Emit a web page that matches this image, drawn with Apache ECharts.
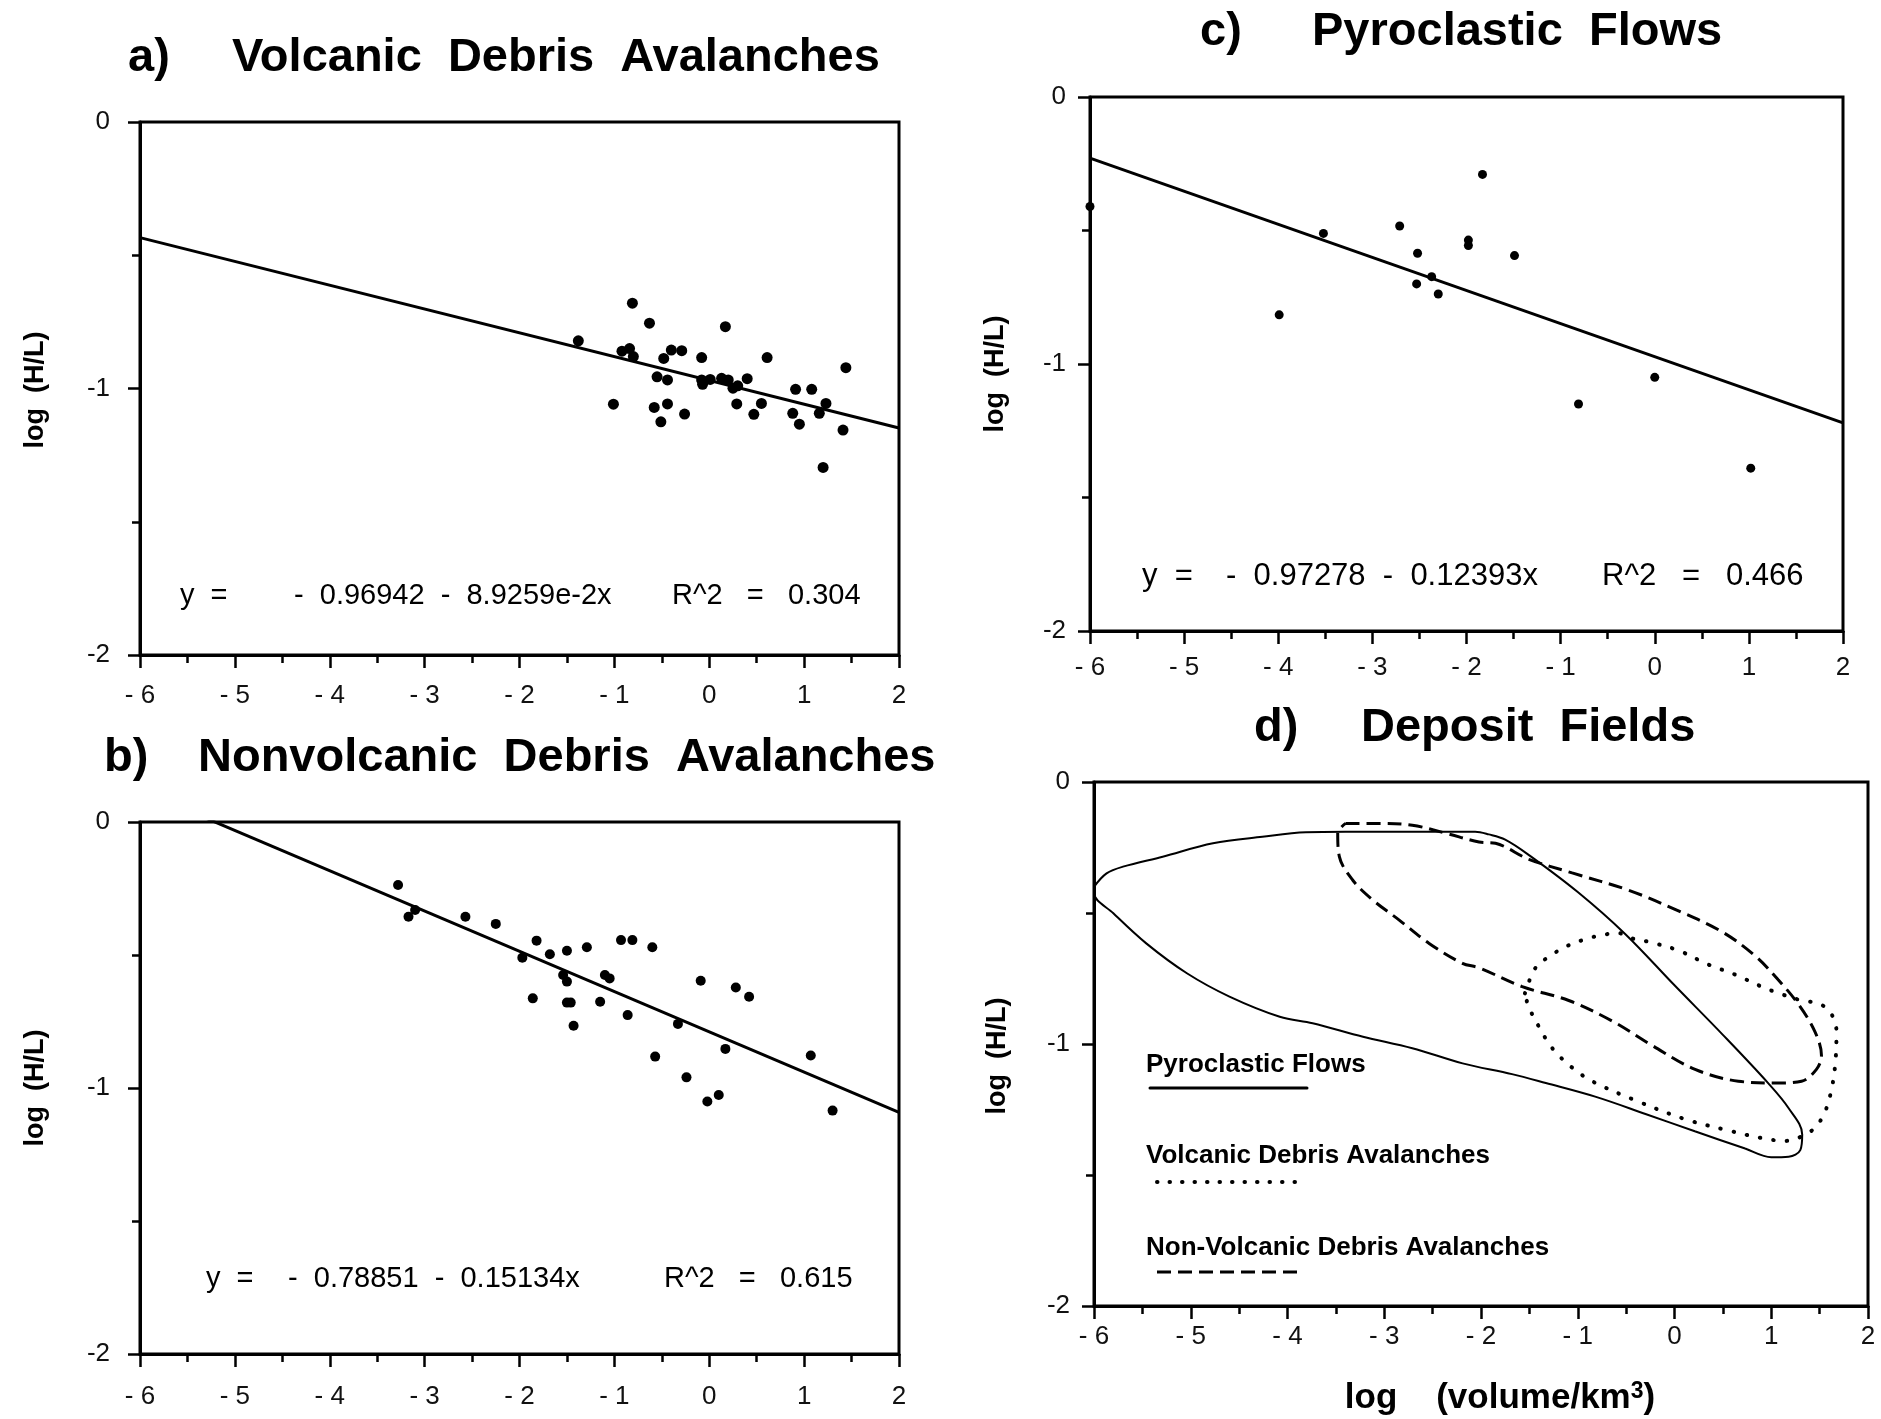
<!DOCTYPE html>
<html>
<head>
<meta charset="utf-8">
<script src="https://cdn.jsdelivr.net/npm/echarts@6/dist/echarts.min.js"></script>
<style>
  html, body { margin: 0; padding: 0; background: #fff; }
  #chart { width: 1881px; height: 1419px; }
</style>
</head>
<body>
<div id="chart"></div>
<script>
// ---- tick labels shared by every panel ----
const xTickValues = [-6, -5, -4, -3, -2, -1, 0, 1, 2];
const xTickText = ['- 6', '- 5', '- 4', '- 3', '- 2', '- 1', '0', '1', '2'];
const yTickValues = [0, -1, -2];
const yTickText = ['0', '-1', '-2'];

// ---- a) volcanic debris avalanches: [log volume, log H/L] ----
const volcanicPts = [
  [-0.81, -0.68], [-0.63, -0.755], [0.17, -0.768], [-1.38, -0.821],
  [-0.92, -0.86], [-0.84, -0.85], [-0.80, -0.88], [-0.48, -0.887],
  [-0.40, -0.856], [-0.29, -0.858], [-0.08, -0.884], [0.61, -0.884],
  [1.44, -0.922], [-0.55, -0.956], [-0.44, -0.968], [-0.08, -0.968],
  [0.01, -0.966], [-0.07, -0.984], [0.13, -0.962], [0.20, -0.968],
  [0.25, -0.999], [0.30, -0.99], [0.40, -0.963], [0.91, -1.003],
  [1.08, -1.003], [1.23, -1.056], [1.16, -1.093], [-1.01, -1.059],
  [-0.58, -1.071], [-0.44, -1.058], [-0.51, -1.125], [-0.26, -1.096],
  [0.29, -1.058], [0.55, -1.056], [0.47, -1.097], [0.88, -1.093],
  [0.95, -1.134], [1.41, -1.156], [1.20, -1.296]
];
const volcanicFit = { intercept: -0.96942, slope: -8.9259e-2, r2: '0.304', slopeText: '8.9259e-2x' };

// ---- b) nonvolcanic debris avalanches ----
const nonvolcanicPts = [
  [-3.28, -0.237], [-3.17, -0.356], [-3.10, -0.331], [-2.57, -0.356],
  [-2.25, -0.383], [-1.82, -0.446], [-1.97, -0.510], [-1.68, -0.497],
  [-1.50, -0.484], [-1.29, -0.471], [-0.93, -0.444], [-0.81, -0.444],
  [-0.60, -0.471], [-1.54, -0.575], [-1.50, -0.600], [-1.10, -0.575],
  [-1.05, -0.588], [-1.86, -0.663], [-1.50, -0.679], [-1.46, -0.679],
  [-1.15, -0.676], [-0.86, -0.726], [-1.43, -0.766], [-0.57, -0.882],
  [-0.33, -0.759], [-0.09, -0.597], [0.28, -0.622], [0.42, -0.657],
  [0.17, -0.853], [-0.24, -0.960], [0.10, -1.026], [-0.02, -1.051],
  [1.07, -0.878], [1.30, -1.085]
];
const nonvolcanicFit = { intercept: -0.78851, slope: -0.15134, r2: '0.615', slopeText: '0.15134x' };

// ---- c) pyroclastic flows ----
const pyroclasticPts = [
  [-6.0, -0.41], [-3.52, -0.511], [-2.71, -0.483], [-1.83, -0.290],
  [-2.52, -0.585], [-1.98, -0.536], [-1.98, -0.556], [-1.49, -0.594],
  [-2.37, -0.673], [-2.53, -0.700], [-2.30, -0.738], [-3.99, -0.816],
  [-0.81, -1.15], [0.0, -1.05], [1.02, -1.39]
];
const pyroclasticFit = { intercept: -0.97278, slope: -0.12393, r2: '0.466', slopeText: '0.12393x' };

// ---- d) deposit field outlines (closed) ----
const pyroclasticField = [
  [-6, -0.40], [-5.87, -0.349], [-5.70, -0.323], [-5.29, -0.285], [-4.77, -0.234],
  [-4.26, -0.209], [-3.81, -0.192], [-3.40, -0.190], [-2.71, -0.190], [-2.06, -0.190],
  [-1.92, -0.200], [-1.75, -0.220], [-1.50, -0.280], [-1.00, -0.420], [-0.51, -0.580],
  [0.00, -0.776], [0.50, -0.965], [0.97, -1.150], [1.18, -1.245], [1.32, -1.345],
  [1.30, -1.405], [1.18, -1.430], [1.00, -1.432], [0.73, -1.399], [0.21, -1.333],
  [-0.30, -1.267], [-0.82, -1.201], [-1.33, -1.149], [-1.68, -1.115], [-2.19, -1.074],
  [-2.71, -1.016], [-3.22, -0.972], [-3.74, -0.921], [-4.08, -0.896], [-4.60, -0.819],
  [-5.04, -0.730], [-5.46, -0.616], [-5.80, -0.501], [-6, -0.425], [-6, -0.40]
];
const volcanicField = [
  [-1.546, -0.807], [-1.436, -0.709], [-1.282, -0.663], [-1.110, -0.626], [-0.921, -0.600],
  [-0.749, -0.584], [-0.577, -0.577], [-0.440, -0.597], [-0.268, -0.610], [0.041, -0.643],
  [0.351, -0.697], [0.626, -0.735], [0.900, -0.781], [1.038, -0.801], [1.313, -0.834],
  [1.502, -0.847], [1.622, -0.886], [1.674, -0.952], [1.663, -1.070], [1.622, -1.175],
  [1.553, -1.261], [1.450, -1.320], [1.313, -1.353], [1.141, -1.370], [0.900, -1.359],
  [0.591, -1.333], [0.110, -1.287], [-0.405, -1.215], [-0.852, -1.142], [-1.058, -1.090],
  [-1.196, -1.044], [-1.299, -0.998], [-1.385, -0.945], [-1.505, -0.860], [-1.546, -0.807]
];
const nonvolcanicField = [
  [-3.40, -0.158], [-3.05, -0.158], [-2.71, -0.165], [-2.36, -0.196], [-2.02, -0.229],
  [-1.85, -0.234], [-1.505, -0.295], [-1.058, -0.347], [-0.474, -0.413], [0.041, -0.492],
  [0.488, -0.571], [0.832, -0.663], [1.072, -0.755], [1.278, -0.847], [1.450, -0.952],
  [1.519, -1.044], [1.467, -1.097], [1.313, -1.142], [1.072, -1.149], [0.660, -1.142],
  [0.213, -1.097], [-0.234, -1.005], [-0.646, -0.912], [-1.093, -0.834], [-1.574, -0.781],
  [-2.021, -0.709], [-2.192, -0.692], [-2.536, -0.616], [-2.845, -0.527], [-3.120, -0.450],
  [-3.327, -0.374], [-3.464, -0.285], [-3.481, -0.196], [-3.40, -0.158]
];

const FONT = 'Liberation Sans, Arial, Helvetica, sans-serif';
const INK = '#000';

// plot frames for the four panels (pixels)
const grids = [
  { left: 140, top: 122, width: 759, height: 533 },   // a
  { left: 140, top: 822, width: 759, height: 532 },   // b
  { left: 1090, top: 97, width: 753, height: 534 },   // c
  { left: 1094, top: 782, width: 774, height: 524 }   // d
];
const xLabelMargin = [28, 30, 24, 18];
const yLabelMargin = [30, 30, 24, 24];

function fitLine(fit) {
  return [-6, 2].map(x => [x, fit.intercept + fit.slope * x]);
}

function makeX(i) {
  return {
    type: 'value', gridIndex: i, min: -6, max: 2, interval: 1,
    axisLine: { show: true, onZero: false, lineStyle: { color: INK, width: 3 } },
    axisTick: { show: true, inside: false, length: 13, lineStyle: { color: INK, width: 2.5 } },
    minorTick: { show: true, splitNumber: 2, length: 8, lineStyle: { color: INK, width: 2.5 } },
    splitLine: { show: false },
    axisLabel: {
      margin: xLabelMargin[i], fontFamily: FONT, fontSize: 26, color: '#111',
      formatter: v => xTickText[xTickValues.indexOf(Math.round(v))]
    }
  };
}
function makeY(i) {
  return {
    type: 'value', gridIndex: i, min: -2, max: 0, interval: 1,
    axisLine: { show: true, onZero: false, lineStyle: { color: INK, width: 3 } },
    axisTick: { show: true, inside: false, length: 12, lineStyle: { color: INK, width: 2.5 } },
    minorTick: { show: true, splitNumber: 2, length: 8, lineStyle: { color: INK, width: 2.5 } },
    splitLine: { show: false },
    axisLabel: {
      margin: yLabelMargin[i], fontFamily: FONT, fontSize: 26, color: '#111',
      formatter: v => yTickText[yTickValues.indexOf(Math.round(v))]
    }
  };
}

function scatter(i, pts, size) {
  return {
    type: 'scatter', xAxisIndex: i, yAxisIndex: i, data: pts,
    symbol: 'circle', symbolSize: size, itemStyle: { color: INK, opacity: 1 }, z: 3, silent: true
  };
}
function regression(i, fit) {
  return {
    type: 'line', xAxisIndex: i, yAxisIndex: i, data: fitLine(fit), clip: true,
    symbol: 'none', lineStyle: { color: INK, width: 3 }, z: 2, silent: true
  };
}
function outline(pts, lineStyle) {
  return {
    type: 'line', xAxisIndex: 3, yAxisIndex: 3, data: pts, smooth: 0.35, clip: true,
    symbol: 'none', lineStyle: Object.assign({ color: INK }, lineStyle), z: 2, silent: true
  };
}

// ---- text helpers ----
function text(x, y, str, size, weight, align) {
  return {
    type: 'text', x: x, y: y, silent: true,
    style: {
      text: str, fill: INK, align: align || 'left', verticalAlign: 'middle',
      font: (weight || 'normal') + ' ' + size + 'px ' + FONT
    }
  };
}
function vtext(x, y, str, size) {
  const t = text(x, y, str, size, 'bold', 'center');
  t.rotation = Math.PI / 2;
  return t;
}
function equation(x0, xCoef, xR, y, fit, size) {
  return [
    text(x0, y, 'y  =', size),
    text(xCoef, y, '-  ' + Math.abs(fit.intercept).toFixed(5) + '  -  ' + fit.slopeText, size),
    text(xR, y, 'R^2   =   ' + fit.r2, size)
  ];
}

const graphics = [
  // panel titles
  text(128, 58, 'a)', 47, 'bold'),
  text(232, 58, 'Volcanic  Debris  Avalanches', 47, 'bold'),
  text(104, 758, 'b)', 47, 'bold'),
  text(198, 758, 'Nonvolcanic  Debris  Avalanches', 47, 'bold'),
  text(1200, 32, 'c)', 47, 'bold'),
  text(1312, 32, 'Pyroclastic  Flows', 47, 'bold'),
  text(1254, 728, 'd)', 47, 'bold'),
  text(1361, 728, 'Deposit  Fields', 47, 'bold'),
  // axis names
  vtext(36, 390, 'log  (H/L)', 27),
  vtext(36, 1088, 'log  (H/L)', 27),
  vtext(996, 374, 'log  (H/L)', 27),
  vtext(998, 1056, 'log  (H/L)', 27),
  {
    type: 'text', x: 1500, y: 1398, silent: true,
    style: {
      text: '{m|log    (volume/km}{s|3}{m|)}', align: 'center', verticalAlign: 'middle',
      rich: {
        m: { fontFamily: FONT, fontWeight: 'bold', fontSize: 35, fill: INK },
        s: { fontFamily: FONT, fontWeight: 'bold', fontSize: 23, fill: INK, verticalAlign: 'top', padding: [0, 0, 12, 0] }
      }
    }
  },
  // field legend in panel d
  text(1146, 1065, 'Pyroclastic Flows', 26, 'bold'),
  { type: 'line', silent: true, shape: { x1: 1150, y1: 1088, x2: 1307, y2: 1088 },
    style: { stroke: INK, lineWidth: 3, lineCap: 'round' } },
  text(1146, 1156, 'Volcanic Debris Avalanches', 26, 'bold'),
  { type: 'line', silent: true, shape: { x1: 1157, y1: 1182, x2: 1296, y2: 1182 },
    style: { stroke: INK, lineWidth: 4, lineCap: 'round', lineDash: [0.5, 12] } },
  text(1146, 1248, 'Non-Volcanic Debris Avalanches', 26, 'bold'),
  { type: 'line', silent: true, shape: { x1: 1157, y1: 1272, x2: 1302, y2: 1272 },
    style: { stroke: INK, lineWidth: 3, lineDash: [14, 7] } }
]
  .concat(equation(180, 294, 672, 596, volcanicFit, 29))
  .concat(equation(206, 288, 664, 1279, nonvolcanicFit, 29))
  .concat(equation(1142, 1226, 1602, 576, pyroclasticFit, 31));

const option = {
  backgroundColor: '#fff',
  animation: false,
  grid: grids.map(g => Object.assign({ show: true, borderColor: INK, borderWidth: 3, containLabel: false }, g)),
  xAxis: [0, 1, 2, 3].map(makeX),
  yAxis: [0, 1, 2, 3].map(makeY),
  series: [
    regression(0, volcanicFit), scatter(0, volcanicPts, 11),
    regression(1, nonvolcanicFit), scatter(1, nonvolcanicPts, 10),
    regression(2, pyroclasticFit), scatter(2, pyroclasticPts, 9),
    outline(pyroclasticField, { width: 2 }),
    outline(volcanicField, { width: 4, type: [0.5, 13], cap: 'round' }),
    outline(nonvolcanicField, { width: 3, type: [14, 7] })
  ],
  graphic: graphics
};

const chart = echarts.init(document.getElementById('chart'), null, { renderer: 'canvas' });
chart.setOption(option);
</script>
</body>
</html>
